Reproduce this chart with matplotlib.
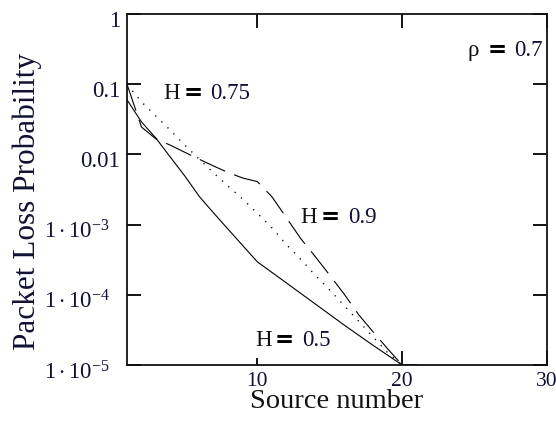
import matplotlib
matplotlib.use("Agg")
import matplotlib.pyplot as plt
import matplotlib.transforms as mtransforms

# ---- data ----
x_h05 = [1, 2, 3, 4, 5, 6, 7, 8, 9, 10, 12, 14, 16, 18, 20, 21]
y_h05 = [0.06, 0.029, 0.017, 0.0091, 0.0049, 0.0025, 0.00145, 8.5e-4, 5.0e-4,
         2.95e-4, 1.48e-4, 7.4e-5, 3.7e-5, 1.9e-5, 1.0e-5, 1.0e-5]

x_h075 = [1, 2, 3, 4, 5, 6, 7, 8, 9, 10, 11, 12, 13, 14, 15, 16, 17, 18, 19, 20, 21]
y_h075 = [0.1, 0.056, 0.035, 0.022, 0.0135, 0.0085, 0.0054, 0.0035, 0.0023,
          0.00145, 9.0e-4, 5.2e-4, 3.2e-4, 1.9e-4, 1.17e-4, 7.0e-5, 4.2e-5,
          2.5e-5, 1.5e-5, 1.0e-5, 1.0e-5]

x_h09 = [1, 2, 3, 4, 5, 6, 7, 8, 9, 10, 11, 12, 13, 14, 15, 16, 17, 18, 19, 20, 21]
y_h09 = [0.1, 0.0245, 0.0166, 0.0135, 0.0107, 0.0085, 0.0068, 0.0055, 0.0046,
         0.0041, 0.0025, 0.00126, 6.3e-4, 3.5e-4, 1.9e-4, 1.02e-4, 5.2e-5,
         2.95e-5, 1.7e-5, 1.0e-5, 1.0e-5]

x_ticks = [10, 20, 30]
x_ticklabels = ["10", "20", "30"]
y_ticks = [1, 0.1, 0.01, 1e-3, 1e-4, 1e-5]
y_ticklabels = ["1", "0.1", "0.01", r"$1\cdot10^{-3}$", r"$1\cdot10^{-4}$", r"$1\cdot10^{-5}$"]

# (symbol, value, x, y)
annotations = [
    ("H", "0.75", 3.5, 0.075),
    ("H", "0.9", 13.0, 0.0013),
    ("H", "0.5", 9.84, 2.3e-5),
    ("\u03c1", "0.7", 24.5, 0.31),
]

# ---- style ----
plt.rcParams["font.family"] = ["Liberation Serif", "DejaVu Serif"]
plt.rcParams["mathtext.fontset"] = "custom"
plt.rcParams["mathtext.rm"] = "Liberation Serif"
plt.rcParams["mathtext.it"] = "Liberation Serif:italic"
plt.rcParams["mathtext.bf"] = "Liberation Serif:bold"
plt.rcParams["lines.scale_dashes"] = False

fig = plt.figure(figsize=(5.56, 4.27), dpi=100)
ax = fig.add_axes([127 / 556, 1 - 366 / 427, (547 - 127) / 556, (366 - 15) / 427])

ax.plot(x_h05, y_h05, color="black", lw=0.8, linestyle="-")
ax.plot(x_h075, y_h075, color="black", lw=1.0, linestyle=(0, (0.9, 5.2)))
ax.plot(x_h09, y_h09, color="black", lw=0.8, linestyle=(0, (20, 7)))

ax.set_yscale("log")
ax.set_xlim(1, 30)
ax.set_ylim(1e-5, 1)

ax.set_xticks(x_ticks)
ax.set_xticklabels(x_ticklabels)
ax.set_yticks(y_ticks)
ax.set_yticklabels(y_ticklabels)
ax.minorticks_off()

ax.tick_params(axis="both", which="major", direction="in", length=10,
               width=1.3, color="black", top=True, right=True,
               labelcolor="#111133")
ax.tick_params(axis="y", pad=5, labelsize=16.5)
ax.tick_params(axis="x", pad=4, labelsize=15.5)

for sp in ax.spines.values():
    sp.set_linewidth(1.3)
    sp.set_color("#111111")

fig.canvas.draw()
# bottom tick at 10 is short in the reference
ax.xaxis.get_major_ticks()[0].tick1line.set_markersize(5)

for lab, txt in zip(ax.get_yticklabels(), y_ticklabels):
    dx = -10 if "cdot" in txt else 0
    offset = mtransforms.ScaledTranslation(dx / 100, -4 / 100, fig.dpi_scale_trans)
    lab.set_transform(lab.get_transform() + offset)

ax.set_xlabel("Source number", fontsize=20.5, color="#111111")
ax.xaxis.set_label_coords(0.5, (366 - 389) / 351)
ax.set_ylabel("Packet Loss Probability", fontsize=22.5, color="#111133")
ax.yaxis.set_label_coords((42 - 127) / 420, (366 - 202) / 351)

for sym, val, xx, yy in annotations:
    ax.annotate(sym, xy=(xx, yy), xytext=(0, 0), textcoords="offset pixels",
                fontsize=16.5, ha="left", va="center", color="#111111")
    ax.annotate("=", xy=(xx, yy), xytext=(20, 1), textcoords="offset pixels",
                fontsize=16.5, fontweight="bold", family="DejaVu Sans",
                ha="left", va="center", color="black")
    ax.annotate(val, xy=(xx, yy), xytext=(47, 0), textcoords="offset pixels",
                fontsize=16.5, ha="left", va="center", color="#111133")

fig.savefig("out.png", dpi=100, facecolor="white")
